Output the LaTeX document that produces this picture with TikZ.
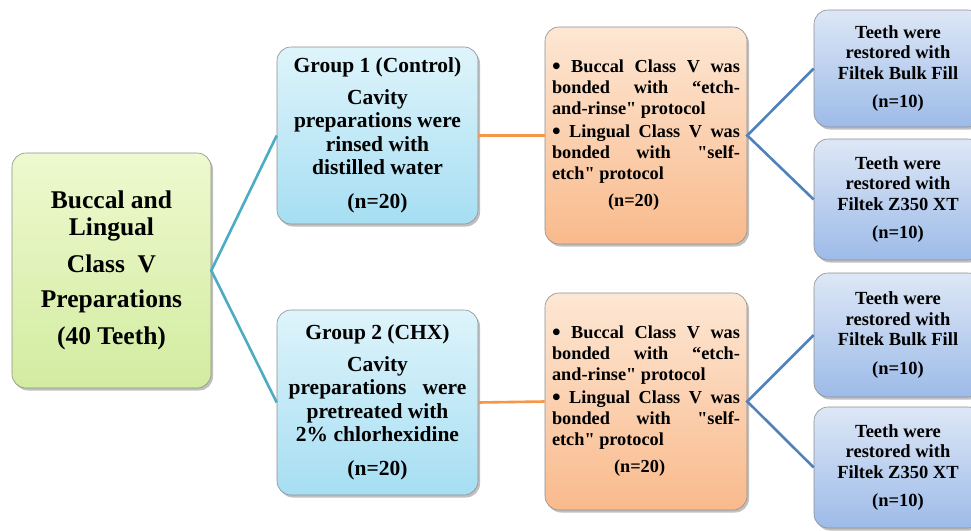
\documentclass[tikz,border=0pt]{standalone}
\usepackage{fontspec}
\setmainfont{Liberation Serif}
\usetikzlibrary{shadows}
\definecolor{rootT}{HTML}{EEF9CF}
\definecolor{rootB}{HTML}{D2ECA0}
\definecolor{grpT}{HTML}{DEF4FB}
\definecolor{grpB}{HTML}{A6DEF2}
\definecolor{oraT}{HTML}{FDE7D4}
\definecolor{oraB}{HTML}{F9BA8C}
\definecolor{resT}{HTML}{DDE7F6}
\definecolor{resB}{HTML}{9DBBE8}
\definecolor{tealL}{HTML}{4BACC6}
\definecolor{oraL}{HTML}{F79646}
\definecolor{bluL}{HTML}{4F81BD}
\definecolor{edgeC}{HTML}{8E8E8E}
\tikzset{
  boxbase/.style={draw=edgeC, line width=0.6pt, rounded corners=14pt, inner sep=0pt,
    drop shadow={shadow xshift=2pt, shadow yshift=-2.5pt, opacity=0.35, fill=black!70}},
  rootbox/.style={boxbase, top color=rootT, bottom color=rootB, minimum width=199pt, minimum height=235pt,
    align=center, font=\fontsize{25.5}{27}\selectfont\bfseries},
  grpbox/.style={boxbase, top color=grpT, bottom color=grpB, minimum width=201pt,
    align=center, font=\fontsize{21.5}{23.5}\selectfont\bfseries},
  orabox/.style={boxbase, top color=oraT, bottom color=oraB, minimum width=202pt, minimum height=217pt,
    align=left, font=\fontsize{18.3}{21}\selectfont\bfseries},
  resbox/.style={boxbase, top color=resT, bottom color=resB, minimum width=168pt,
    align=center, font=\fontsize{18.5}{20.5}\selectfont\bfseries},
  tealline/.style={draw=tealL, line width=2.6pt},
  oraline/.style={draw=oraL, line width=2.6pt},
  bluline/.style={draw=bluL, line width=2.6pt},
}
\newcommand{\jl}[1]{\makebox[188pt][s]{#1}}
\newcommand{\bul}{\raisebox{-1.8pt}{\scalebox{1.35}{\textbullet}}}
\newcommand{\dq}{\textquotedbl}
\begin{document}
\begin{tikzpicture}[x=1pt,y=-1pt]
\useasboundingbox (0,0) rectangle (971,530);
\clip (0,0) rectangle (971,530);
\fill[white] (0,0) rectangle (971,530);

\node[rootbox] (root) at (111.5,270.5) {Buccal and\\Lingual\\[10pt]Class~~V\\[8pt]Preparations\\[10pt](40 Teeth)};

\node[grpbox, minimum height=177pt] (g1) at (377.5,135.5) {Group 1 (Control)\\[8pt]Cavity\\preparations were\\rinsed with\\distilled water\\[10pt](n=20)};
\node[grpbox, minimum height=185pt] (g2) at (377.5,402.5) {Group 2 (CHX)\\[8pt]Cavity\\preparations~~ were\\pretreated with\\2\% chlorhexidine\\[10pt](n=20)};

\node[orabox] (o1) at (646,135.5) {\jl{\bul{} Buccal Class V was}\\\jl{bonded with “etch-}\\and-rinse\dq{} protocol\\[2pt]\jl{\bul{} Lingual Class V was}\\\jl{bonded with \dq{}self-}\\etch\dq{} protocol\\[6pt]\hspace*{56pt}(n=20)};
\node[orabox] (o2) at (646,401.5) {\jl{\bul{} Buccal Class V was}\\\jl{bonded with “etch-}\\and-rinse\dq{} protocol\\[2pt]\jl{\bul{} Lingual Class V was}\\\jl{bonded with \dq{}self-}\\etch\dq{} protocol\\[6pt]\hspace*{62pt}(n=20)};

\node[resbox, minimum height=117pt] (r1) at (898,68.5) {Teeth were\\restored with\\Filtek Bulk Fill\\[8pt](n=10)};
\node[resbox, minimum height=121pt] (r2) at (898,199.5) {Teeth were\\restored with\\Filtek Z350 XT\\[8pt](n=10)};
\node[resbox, minimum height=124pt] (r3) at (898,335) {Teeth were\\restored with\\Filtek Bulk Fill\\[8pt](n=10)};
\node[resbox, minimum height=121pt] (r4) at (898,467.5) {Teeth were\\restored with\\Filtek Z350 XT\\[8pt](n=10)};

\draw[tealline] (g1.west) -- (root.east) -- (g2.west);
\draw[oraline] (g1.east) -- (o1.west);
\draw[oraline] (g2.east) -- (o2.west);
\draw[bluline] (r1.west) -- (o1.east) -- (r2.west);
\draw[bluline] (r3.west) -- (o2.east) -- (r4.west);
\end{tikzpicture}
\end{document}
